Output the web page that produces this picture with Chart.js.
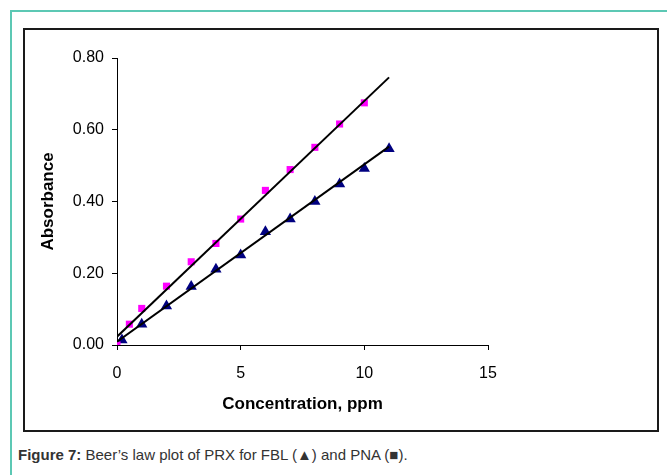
<!DOCTYPE html>
<html lang="en">
<head>
    <meta charset="UTF-8">
    <title>Beer's law plot of PRX</title>
    <script src="https://cdn.jsdelivr.net/npm/chart.js"></script>
    <style>
        body {
            margin: 0;
            width: 667px;
            height: 475px;
            overflow: hidden;
            background: #fff;
            font-family: 'Liberation Sans', Arial, sans-serif;
            position: relative;
        }

        .frame {
            position: absolute;
            left: 10px;
            top: 10px;
            width: 700px;
            height: 500px;
            border-left: 2px solid #5cc8b4;
            border-top: 2px solid #5cc8b4;
        }

        .box {
            position: absolute;
            left: 23px;
            top: 28px;
            width: 632px;
            height: 400px;
            border: 2px solid #1a1a1a;
        }

        .caption {
            position: absolute;
            left: 18px;
            top: 446px;
            font-size: 15px;
            color: #333;
            white-space: nowrap;
        }

        canvas {
            position: absolute;
            left: 0;
            top: 0;
        }
    </style>
</head>
<body>
    <div class="frame"></div>
    <div class="box"></div>
    <div class="caption"><b>Figure 7:</b> Beer’s law plot of PRX for FBL (▲) and PNA (■).</div>
    <canvas id="chart" width="667" height="475"></canvas>

    <script>
        // PNA (pink squares)
        const pnaX = [0, 0.5, 1, 2, 3, 4, 5, 6, 7, 8, 9, 10];
        const pnaY = [0.000, 0.058, 0.102, 0.164, 0.232, 0.283, 0.351, 0.431, 0.489, 0.551, 0.616, 0.675];

        // FBL (blue triangles)
        const fblX = [0.2, 1, 2, 3, 4, 5, 6, 7, 8, 9, 10, 11];
        const fblY = [0.014, 0.058, 0.109, 0.163, 0.211, 0.251, 0.316, 0.351, 0.400, 0.449, 0.492, 0.547];

        // trendline end points
        const pnaFitX = [0, 11];
        const pnaFitY = [0.023, 0.746];
        const fblFitX = [0, 11];
        const fblFitY = [0.009, 0.553];

        const xTicks = [0, 5, 10, 15];
        const yTicks = [0, 0.2, 0.4, 0.6, 0.8];

        const toPoints = (xs, ys) => xs.map((x, i) => ({ x: x, y: ys[i] }));

        const tickFont = { family: "'Liberation Sans', Arial, sans-serif", size: 16 };
        const titleFont = { family: "'Liberation Sans', Arial, sans-serif", size: 17, weight: 'bold' };

        new Chart(document.getElementById('chart'), {
            type: 'scatter',
            data: {
                datasets: [
                    {
                        label: 'PNA fit',
                        data: toPoints(pnaFitX, pnaFitY),
                        showLine: true,
                        borderColor: '#000',
                        borderWidth: 2,
                        pointRadius: 0,
                        order: 0
                    },
                    {
                        label: 'FBL fit',
                        data: toPoints(fblFitX, fblFitY),
                        showLine: true,
                        borderColor: '#000',
                        borderWidth: 2,
                        pointRadius: 0,
                        order: 0
                    },
                    {
                        label: 'PNA',
                        data: toPoints(pnaX, pnaY),
                        pointStyle: 'rect',
                        pointRadius: 5,
                        backgroundColor: '#ff00ff',
                        borderColor: '#ff00ff',
                        borderWidth: 0,
                        order: 1
                    },
                    {
                        label: 'FBL',
                        data: toPoints(fblX, fblY),
                        pointStyle: 'triangle',
                        pointRadius: 6.5,
                        backgroundColor: '#000080',
                        borderColor: '#000080',
                        borderWidth: 0,
                        order: 1
                    }
                ]
            },
            options: {
                responsive: false,
                animation: false,
                layout: {
                    padding: { left: 38, right: 179, top: 58, bottom: 60 }
                },
                plugins: {
                    legend: { display: false },
                    tooltip: { enabled: false }
                },
                scales: {
                    x: {
                        type: 'linear',
                        min: 0,
                        max: 15,
                        afterFit: s => { s.height = 70; },
                        afterBuildTicks: s => { s.ticks = xTicks.map(v => ({ value: v })); },
                        grid: {
                            drawOnChartArea: false,
                            color: '#000',
                            tickLength: 5
                        },
                        border: { color: '#000', width: 1 },
                        ticks: {
                            color: '#000',
                            font: tickFont,
                            padding: 14,
                            maxRotation: 0
                        },
                        title: {
                            display: true,
                            text: 'Concentration, ppm',
                            color: '#000',
                            font: titleFont,
                            padding: 0
                        }
                    },
                    y: {
                        min: 0,
                        max: 0.8,
                        afterFit: s => { s.width = 79; },
                        afterBuildTicks: s => { s.ticks = yTicks.map(v => ({ value: v })); },
                        grid: {
                            drawOnChartArea: false,
                            color: '#000',
                            tickLength: 5
                        },
                        border: { color: '#000', width: 1 },
                        ticks: {
                            color: '#000',
                            font: tickFont,
                            padding: 8,
                            callback: v => v.toFixed(2)
                        },
                        title: {
                            display: true,
                            text: 'Absorbance',
                            color: '#000',
                            font: titleFont,
                            padding: 0
                        }
                    }
                }
            }
        });
    </script>
</body>
</html>
